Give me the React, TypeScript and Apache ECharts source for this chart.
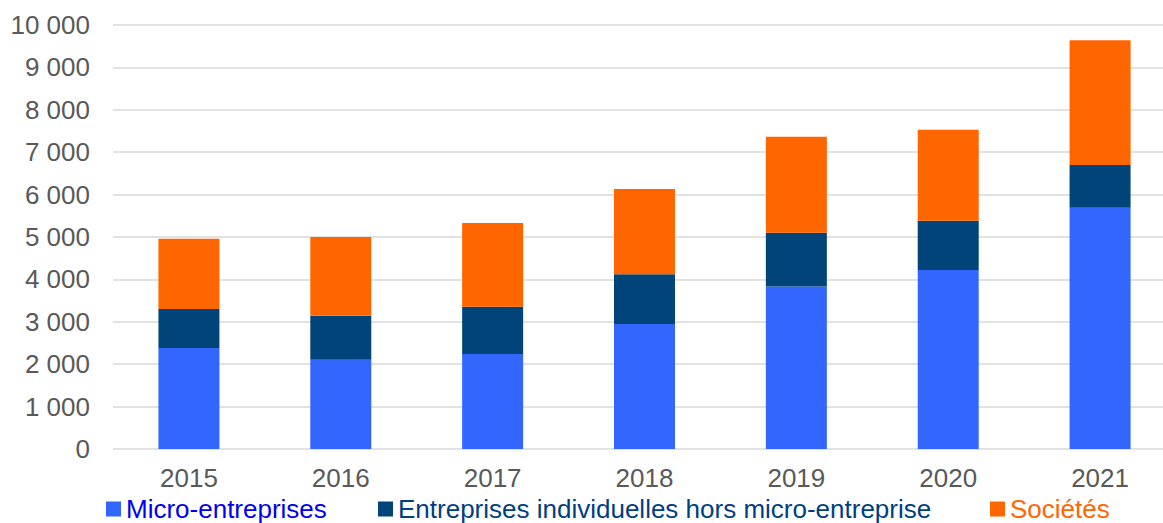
import React, { useEffect, useRef } from "react";
import * as echarts from "echarts";

const years = ["2015", "2016", "2017", "2018", "2019", "2020", "2021"];
const micro = [2380, 2105, 2240, 2950, 3835, 4220, 5690];
const individuelles = [920, 1040, 1115, 1170, 1265, 1165, 1010];
const societes = [1660, 1855, 1975, 2010, 2265, 2145, 2940];
const yTicks = [0, 1000, 2000, 3000, 4000, 5000, 6000, 7000, 8000, 9000, 10000];
const seriesNames = [
  "Micro-entreprises",
  "Entreprises individuelles hors micro-entreprise",
  "Sociétés",
];

const FONT = "'Liberation Sans', Arial, sans-serif";
const barColors = ["#3366FF", "#004479", "#FF6600"];
const legendTextColors = ["#0000F0", "#003F7F", "#FF6600"];
const legendLefts = [106, 378, 990];

function fmt(v: number): string {
  const s = String(Math.round(v));
  return s.replace(/\B(?=(\d{3})+(?!\d))/g, " ");
}

export default function App() {
  const ref = useRef<HTMLDivElement>(null);
  useEffect(() => {
    if (!ref.current) return;
    const chart = echarts.init(ref.current, undefined, { renderer: "svg" });
    const values = [micro, individuelles, societes];
    chart.setOption({
      animation: false,
      textStyle: { fontFamily: FONT },
      grid: { left: 113, top: 25, width: 1063, height: 424, containLabel: false },
      legend: seriesNames.map((name, i) => ({
        left: legendLefts[i],
        top: 496,
        padding: 0,
        itemWidth: 15,
        itemHeight: 15,
        icon: "rect",
        textStyle: {
          fontSize: 26,
          lineHeight: 24,
          fontFamily: FONT,
          color: legendTextColors[i],
        },
        data: [name],
      })),
      xAxis: {
        type: "category",
        data: years,
        axisLine: { show: false },
        axisTick: { show: false },
        axisLabel: { color: "#595959", fontSize: 26, margin: 16, fontFamily: FONT },
      },
      yAxis: {
        type: "value",
        min: yTicks[0],
        max: yTicks[yTicks.length - 1],
        interval: 1000,
        axisLine: { show: false },
        axisTick: { show: false },
        splitLine: { lineStyle: { color: "#d9d9d9", width: 1.5 } },
        axisLabel: {
          color: "#595959",
          fontSize: 26,
          margin: 23,
          fontFamily: FONT,
          formatter: (v: number) => fmt(v),
        },
      },
      series: seriesNames.map((name, i) => ({
        name,
        type: "bar",
        stack: "total",
        barWidth: 61,
        data: values[i],
        itemStyle: { color: barColors[i] },
      })),
    });
    return () => chart.dispose();
  }, []);
  return (
    <div
      style={{
        position: "fixed",
        left: 0,
        top: 0,
        width: 1163,
        height: 523,
        overflow: "hidden",
        background: "#fff",
      }}
    >
      <div ref={ref} style={{ width: 1200, height: 523 }} />
    </div>
  );
}
